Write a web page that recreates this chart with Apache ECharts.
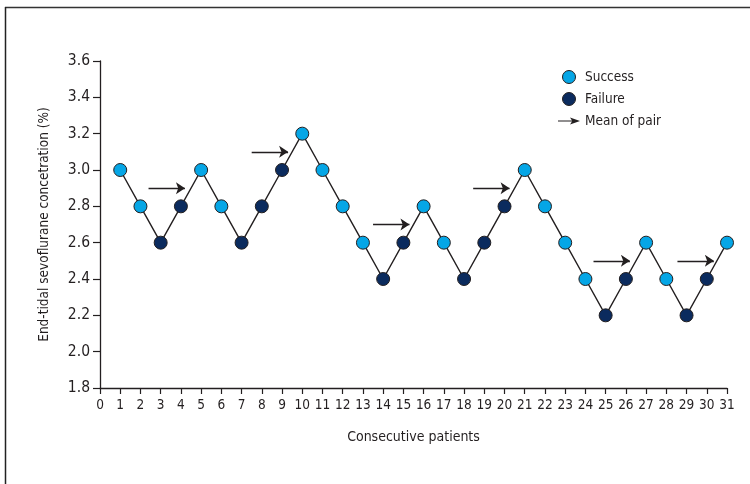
<!DOCTYPE html>
<html>
<head>
<meta charset="utf-8">
<script src="https://cdn.jsdelivr.net/npm/echarts@6/dist/echarts.min.js"></script>
<style>html,body{margin:0;padding:0;background:#fff}#c{width:750px;height:484px}</style>
</head>
<body>
<div id="c"></div>
<script>
// Data
const patients = [1,2,3,4,5,6,7,8,9,10,11,12,13,14,15,16,17,18,19,20,21,22,23,24,25,26,27,28,29,30,31];
const concentration = [3.0,2.8,2.6,2.8,3.0,2.8,2.6,2.8,3.0,3.2,3.0,2.8,2.6,2.4,2.6,2.8,2.6,2.4,2.6,2.8,3.0,2.8,2.6,2.4,2.2,2.4,2.6,2.4,2.2,2.4,2.6];
const outcome = ['S','S','F','F','S','S','F','F','F','S','S','S','S','F','F','S','S','F','F','F','S','S','S','S','F','F','S','S','F','F','S'];
const arrowStartX = [2.4, 7.5, 13.5, 18.45, 24.4, 28.55];
const arrowEndX   = [4.2, 9.3, 15.3, 20.25, 26.2, 30.35];
const arrowY      = [2.9, 3.1, 2.7, 2.9, 2.5, 2.5];
const yTicks = [1.8,2.0,2.2,2.4,2.6,2.8,3.0,3.2,3.4,3.6];

const FONT = "'Liberation Sans Narrow', 'DejaVu Sans Condensed', 'Roboto Condensed', sans-serif";
const C_S = '#05a6e6', C_F = '#0b2b5e', INK = '#231f20';

const allPts = patients.map((p,i)=>[p, concentration[i]]);
const sPts = patients.map((p,i)=>outcome[i]==='S'?[p,concentration[i]]:null).filter(Boolean);
const fPts = patients.map((p,i)=>outcome[i]==='F'?[p,concentration[i]]:null).filter(Boolean);
const arrows = arrowY.map((y,i)=>({coords:[[arrowStartX[i],y],[arrowEndX[i],y]]}));

const chart = echarts.init(document.getElementById('c'));
chart.setOption({
  animation:false,
  backgroundColor:'#fff',
  grid:{left:100,right:23,top:61,bottom:96,containLabel:false},
  xAxis:{type:'value',min:0,max:31,interval:1,
    axisLine:{lineStyle:{color:INK,width:1.3}},
    axisTick:{length:6,lineStyle:{color:INK,width:1.2}},
    axisLabel:{color:INK,fontFamily:FONT,fontSize:13.5,margin:10},
    splitLine:{show:false},
    name:'Consecutive patients',nameLocation:'middle',nameGap:42,
    nameTextStyle:{color:INK,fontFamily:FONT,fontSize:14}},
  yAxis:{type:'value',min:1.8,max:3.6,interval:0.2,
    axisLine:{show:true,lineStyle:{color:INK,width:1.3}},
    axisTick:{show:true,length:7,lineStyle:{color:INK,width:1.2}},
    axisLabel:{color:INK,fontFamily:FONT,fontSize:15.5,margin:10,formatter:v=>v.toFixed(1)},
    splitLine:{show:false},
    name:'End-tidal sevoflurane concetration (%)',nameLocation:'middle',nameGap:49,
    nameTextStyle:{color:INK,fontFamily:FONT,fontSize:13.5}},
  legend:{orient:'vertical',left:553,top:65,itemWidth:22,itemHeight:13,itemGap:8,
    textStyle:{color:INK,fontFamily:FONT,fontSize:13.5},
    data:[
      {name:'Success',icon:'circle',itemStyle:{color:C_S,borderColor:INK,borderWidth:1}},
      {name:'Failure',icon:'circle',itemStyle:{color:C_F,borderColor:INK,borderWidth:1}},
      {name:'Mean of pair',icon:'path://M0,4.4 L14,4.4 L12,1.5 L22,5 L12,8.5 L14,5.6 L0,5.6 Z',itemStyle:{color:INK,borderWidth:0}}
    ]},
  series:[
    {type:'line',data:allPts,symbol:'none',lineStyle:{color:INK,width:1.4},z:1,silent:true},
    {name:'Success',type:'scatter',data:sPts,symbolSize:13,itemStyle:{color:C_S,borderColor:INK,borderWidth:1,opacity:1},z:3},
    {name:'Failure',type:'scatter',data:fPts,symbolSize:13,itemStyle:{color:C_F,borderColor:INK,borderWidth:1,opacity:1},z:3},
    {name:'Mean of pair',type:'lines',coordinateSystem:'cartesian2d',data:arrows,
      symbol:['none','arrow'],symbolSize:[0,9],
      lineStyle:{color:INK,width:1.4,opacity:1},itemStyle:{color:INK},z:2}
  ],
  graphic:[
    {type:'line',shape:{x1:5,y1:7.5,x2:750,y2:7.5},style:{stroke:'#333',lineWidth:1.5}},
    {type:'line',shape:{x1:5.5,y1:7,x2:5.5,y2:484},style:{stroke:'#222',lineWidth:1.5}}
  ]
});
</script>
</body>
</html>
